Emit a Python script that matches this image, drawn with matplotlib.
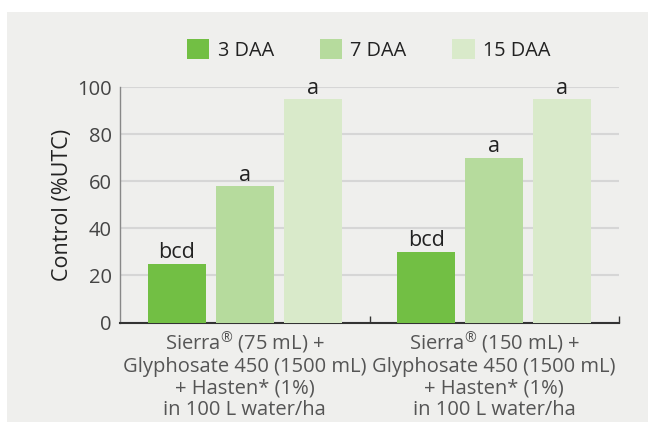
import matplotlib
matplotlib.use("Agg")
import matplotlib.pyplot as plt
from matplotlib.patches import Rectangle
import numpy as np

plt.rcParams['font.family'] = ['Open Sans', 'DejaVu Sans']
plt.rcParams['mathtext.fontset'] = 'custom'
plt.rcParams['mathtext.rm'] = 'Open Sans'
plt.rcParams['mathtext.it'] = 'Open Sans'
plt.rcParams['mathtext.default'] = 'rm'

categories = ["Sierra$^{\u00ae}$ (75 mL) +\nGlyphosate 450 (1500 mL)\n+ Hasten* (1%)\nin 100 L water/ha",
              "Sierra$^{\u00ae}$ (150 mL) +\nGlyphosate 450 (1500 mL)\n+ Hasten* (1%)\nin 100 L water/ha"]
series_names = ["3 DAA", "7 DAA", "15 DAA"]
values_3daa = [25, 30]
values_7daa = [58, 70]
values_15daa = [95, 95]
letters_3daa = ["bcd", "bcd"]
letters_7daa = ["a", "a"]
letters_15daa = ["a", "a"]
yticks = [0, 20, 40, 60, 80, 100]

colors = ["#72bf44", "#b6db9d", "#d9eaca"]
bg = "#efefed"

fig = plt.figure(figsize=(6.48, 4.22), dpi=100)
fig.patch.set_facecolor("white")
fig.patches.append(Rectangle((7/648, 0), 641/648, 410/422, transform=fig.transFigure,
                             facecolor=bg, edgecolor="none", zorder=-10))

ax = fig.add_axes([120/648, 1-322.5/422, 499/648, 235.2/422])
ax.set_facecolor(bg)
ax.patch.set_alpha(0)

x = np.arange(len(categories))
offset = 0.2725
width = 0.2325
all_vals = [values_3daa, values_7daa, values_15daa]
all_letters = [letters_3daa, letters_7daa, letters_15daa]
for i, (vals, lets) in enumerate(zip(all_vals, all_letters)):
    xs = x + (i - 1) * offset
    ax.bar(xs, vals, width=width, color=colors[i], label=series_names[i], zorder=3)
    for xi, v, l in zip(xs, vals, lets):
        ax.text(xi, v + 0.2, l, ha="center", va="bottom", fontsize=15.5, color="#222222", zorder=4)

ax.set_xlim(-0.5, 1.5)
ax.set_ylim(0, 100)
ax.set_yticks(yticks)
ax.yaxis.grid(True, color="#d6d6d6", linewidth=1.5, zorder=0)
ax.set_axisbelow(True)
ax.tick_params(axis="y", length=0, labelsize=14.5, labelcolor="#444444", pad=6)

ax.set_xticks([0.5, 1.5])
ax.set_xticklabels([])
ax.tick_params(axis="x", direction="in", length=5, width=1, color="#333333")
ax.set_xticks(x, minor=True)
ax.set_xticklabels(categories, minor=True, fontsize=14.5, color="#555555", linespacing=1.1)
ax.tick_params(axis="x", which="minor", length=0, pad=5)

for s in ["top", "right"]:
    ax.spines[s].set_visible(False)
ax.spines["left"].set_color("#888888")
ax.spines["left"].set_linewidth(1)
ax.spines["bottom"].set_color("#333333")
ax.spines["bottom"].set_linewidth(1.5)

ax.set_ylabel("Control (%UTC)", fontsize=15.5, color="#222222", labelpad=3)

leg = fig.legend(loc="center", bbox_to_anchor=(0.569, 1-50/422), ncol=3, frameon=False,
                 fontsize=14.3, handlelength=1.13, handleheight=1.13, handletextpad=0.42,
                 columnspacing=2.3)
for t in leg.get_texts():
    t.set_color("#222222")

fig.savefig("out.png", dpi=100, facecolor=fig.get_facecolor())
